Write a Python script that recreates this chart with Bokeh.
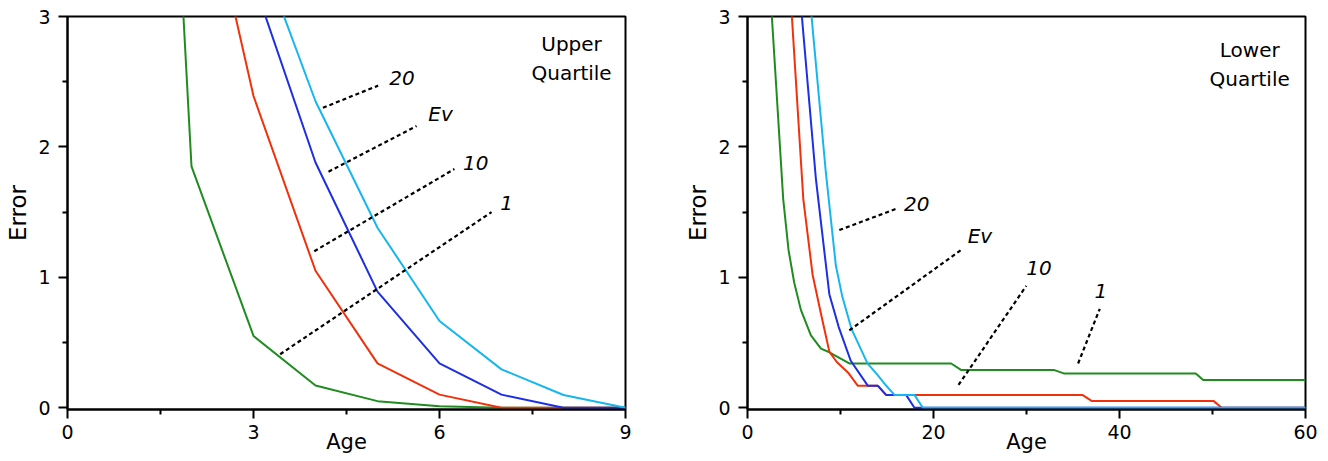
from bokeh.plotting import figure
from bokeh.layouts import row
from bokeh.models import Range1d, FixedTicker
from bokeh.core.properties import value
from bokeh.embed import file_html
from bokeh.resources import INLINE

FONT = "DejaVu Sans"

# ---------------- Upper quartile panel ----------------
upper_age = [1, 2, 3, 4, 5, 6, 7, 8, 9]
upper_1 = [10.7, 1.85, 0.55, 0.17, 0.05, 0.01, 0.0, 0.0, 0.0]
upper_10 = [9.0, 4.49, 2.39, 1.05, 0.34, 0.10, 0.0, 0.0, 0.0]
upper_ev = [10.0, 6.0, 3.27, 1.88, 0.89, 0.34, 0.10, 0.0, 0.0]
upper_20 = [12.0, 7.0, 3.63, 2.35, 1.38, 0.665, 0.294, 0.097, 0.0]

upper_tag_text = ["20", "Ev", "10", "1"]
upper_tag_x = [5.19, 5.82, 6.38, 6.98]
upper_tag_y = [2.53, 2.25, 1.875, 1.57]
upper_lead_x0 = [4.12, 4.21, 3.98, 3.43]
upper_lead_y0 = [2.30, 1.81, 1.20, 0.41]
upper_lead_x1 = [5.01, 5.63, 6.24, 6.84]
upper_lead_y1 = [2.47, 2.16, 1.83, 1.50]

# ---------------- Lower quartile panel ----------------
lower_1_age = [2, 3.84, 4.41, 5.02, 5.74, 6.82, 7.9, 8.8, 10.95, 21.9, 23.0, 33.0, 34.0, 48.2, 49.0, 60]
lower_1 = [3.71, 1.6, 1.21, 0.96, 0.75, 0.555, 0.453, 0.425, 0.339, 0.339, 0.288, 0.288, 0.263, 0.263, 0.212, 0.212]
lower_10_age = [4.0, 6.0, 7.0, 7.9, 8.8, 9.6, 10.8, 11.85, 14.0, 14.9, 36.0, 37.0, 50.1, 51.0, 60]
lower_10 = [3.88, 1.6, 1.02, 0.72, 0.43, 0.35, 0.27, 0.169, 0.169, 0.098, 0.098, 0.052, 0.052, 0.0, 0.0]
lower_ev_age = [5.0, 7.36, 8.8, 9.8, 11.1, 12.93, 14.0, 14.9, 17.05, 17.95, 60]
lower_ev = [3.7, 1.75, 0.87, 0.62, 0.36, 0.169, 0.169, 0.098, 0.098, 0.0, 0.0]
lower_20_age = [6.0, 8.43, 9.5, 10.2, 11.2, 12.9, 14.0, 14.9, 15.8, 17.95, 18.85, 60]
lower_20 = [3.69, 1.8, 1.09, 0.85, 0.6, 0.34, 0.25, 0.17, 0.098, 0.098, 0.0, 0.0]

lower_tag_text = ["20", "Ev", "10", "1"]
lower_tag_x = [16.84, 23.68, 29.98, 37.3]
lower_tag_y = [1.565, 1.314, 1.07, 0.891]
lower_lead_x0 = [9.87, 10.95, 22.69, 35.55]
lower_lead_y0 = [1.362, 0.593, 0.174, 0.339]
lower_lead_x1 = [15.98, 22.98, 29.98, 37.88]
lower_lead_y1 = [1.525, 1.21, 0.935, 0.758]

GREEN = "#1f8c1f"
RED = "#f2300c"
BLUE = "#1c2ee6"
CYAN = "#16b6ee"


def make_panel(width, border_right, border_top, xmax, xmajor, xminor,
               series, tags, title_lines, title_x, title_y):
    p = figure(width=width, height=461, output_backend="svg", toolbar_location=None,
               x_range=Range1d(0, xmax), y_range=Range1d(-0.014, 3),
               min_border_left=67, min_border_right=border_right,
               min_border_top=border_top, min_border_bottom=52)
    p.grid.visible = False
    p.outline_line_color = "black"
    p.outline_line_width = 2
    p.background_fill_color = "white"
    p.border_fill_color = "white"

    for ax in (p.xaxis[0], p.yaxis[0]):
        ax.axis_line_width = 2
        ax.axis_line_color = "black"
        ax.major_tick_line_width = 2
        ax.minor_tick_line_width = 2
        ax.major_tick_in = 0
        ax.minor_tick_in = 0
        ax.major_tick_out = 9
        ax.minor_tick_out = 5
        ax.major_label_text_font = FONT
        ax.major_label_text_font_size = "19px"
        ax.major_label_text_color = "black"
        ax.axis_label_text_font = FONT
        ax.axis_label_text_font_style = "normal"
        ax.axis_label_text_color = "black"

    p.xaxis[0].ticker = FixedTicker(ticks=xmajor, minor_ticks=xminor)
    p.yaxis[0].ticker = FixedTicker(ticks=[0, 1, 2, 3], minor_ticks=[0.5, 1.5, 2.5])
    p.xaxis[0].axis_label = "Age"
    p.xaxis[0].axis_label_text_font_size = "21px"
    p.xaxis[0].axis_label_standoff = -12
    p.xaxis[0].major_label_standoff = 6
    p.yaxis[0].axis_label = "Error"
    p.yaxis[0].axis_label_text_font_size = "23px"
    p.yaxis[0].axis_label_standoff = 4
    p.yaxis[0].major_label_standoff = 8

    for xs, ys, col in series:
        p.line(xs, ys, line_color=col, line_width=2)

    text, tx, ty, x0, y0, x1, y1 = tags
    p.segment(x0=x0, y0=y0, x1=x1, y1=y1, line_color="black", line_width=2.2,
              line_dash="4 3")
    p.text(x=tx, y=ty, text=text, text_font=value(FONT), text_font_style="italic",
           text_font_size="20px", text_align="left", text_baseline="middle",
           text_color="black")

    p.text(x=[title_x, title_x], y=title_y, text=title_lines, text_font=value(FONT),
           text_font_size="20px", text_align="center", text_baseline="alphabetic",
           text_color="black")
    return p


left = make_panel(
    680, 55, 13, 9, [0, 3, 6, 9], [1.5, 4.5, 7.5],
    [(upper_age, upper_1, GREEN), (upper_age, upper_10, RED),
     (upper_age, upper_ev, BLUE), (upper_age, upper_20, CYAN)],
    (upper_tag_text, upper_tag_x, upper_tag_y, upper_lead_x0, upper_lead_y0,
     upper_lead_x1, upper_lead_y1),
    ["Upper", "Quartile"], 8.13, [2.786, 2.564])

right = make_panel(
    648, 23, 16, 60, [0, 20, 40, 60], [10, 30, 50],
    [(lower_1_age, lower_1, GREEN), (lower_10_age, lower_10, RED),
     (lower_ev_age, lower_ev, BLUE), (lower_20_age, lower_20, CYAN)],
    (lower_tag_text, lower_tag_x, lower_tag_y, lower_lead_x0, lower_lead_y0,
     lower_lead_x1, lower_lead_y1),
    ["Lower", "Quartile"], 54.0, [2.743, 2.522])

layout = row(left, right)
open("out.html", "w").write(file_html(layout, INLINE))
